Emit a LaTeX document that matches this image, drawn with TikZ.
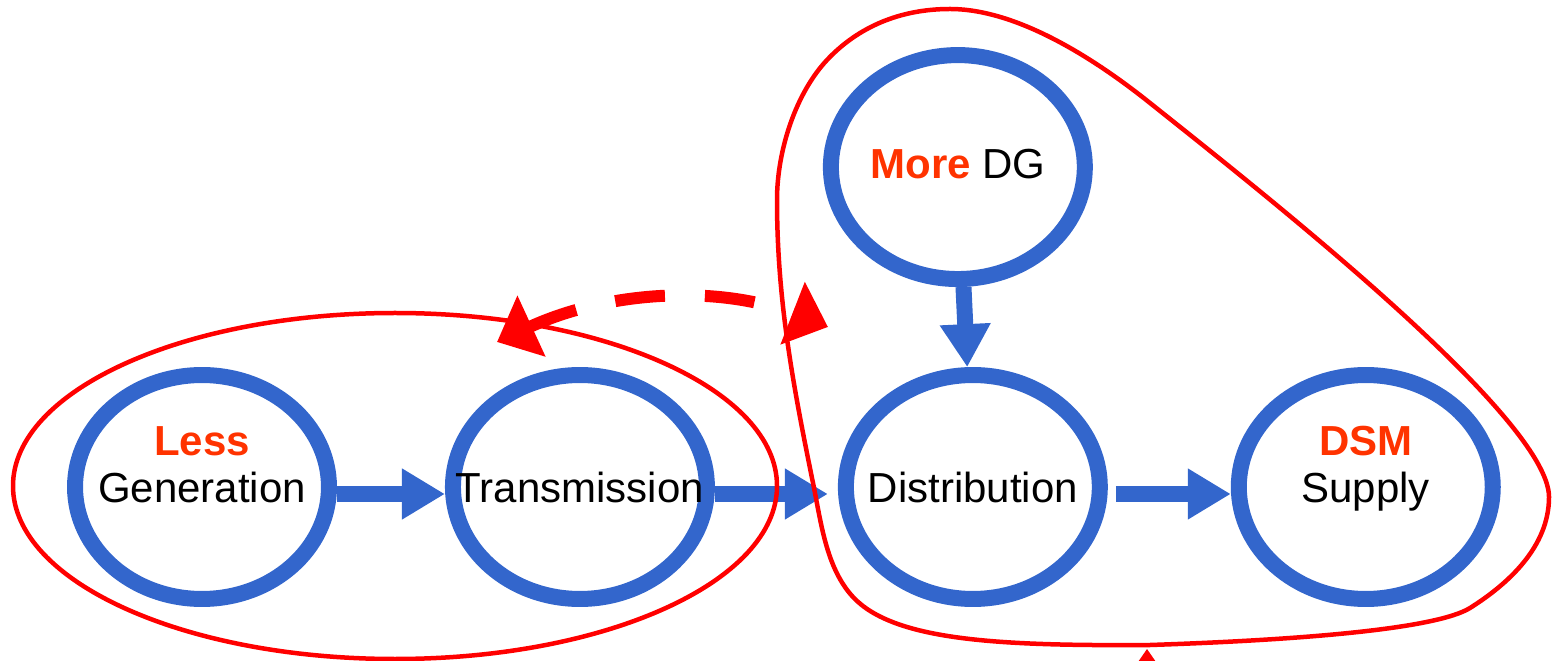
\documentclass[tikz,border=0pt]{standalone}
\usepackage{fontspec}
\setmainfont{Liberation Sans}
\usepackage{tikz}
\usetikzlibrary{positioning,shapes.geometric,arrows.meta}
\definecolor{flowblue}{RGB}{51,102,204}
\definecolor{hotred}{RGB}{255,51,0}

\begin{document}
\begin{tikzpicture}[x=0.02cm, y=-0.02cm, node distance=2.46cm, auto]
	% Define styles for stages and links
	\tikzset{
		stage/.style={
			ellipse,
			draw=flowblue,
			line width=0.32cm,
			minimum width=5.08cm,
			minimum height=4.48cm,
			inner xsep=-3cm,
			inner ysep=0pt,
			text height=0.8cm,
			text depth=0.16cm,
			font=\fontsize{23.9}{28}\selectfont
		},
		tag/.style={
			text=hotred,
			yshift=0.96cm,
			text height=0.8cm,
			text depth=0.16cm,
			font=\fontsize{23.9}{28}\selectfont\bfseries
		},
		flow/.style={
			draw=flowblue,
			line width=0.32cm,
			-{Triangle[length=0.86cm, width=0.96cm]}
		},
		ringline/.style={
			draw=red,
			line width=0.09cm,
			line join=round
		},
		dashlink/.style={
			draw=red,
			line width=0.24cm,
			dash pattern=on 1cm off 0.8cm,
			{Triangle[length=0.76cm, width=1.3cm]}-{Triangle[length=0.76cm, width=1.3cm]}
		}
	}
	\useasboundingbox (0,0) rectangle (1554,661);
	
	% Nodes for the supply chain
	\node[stage, label={[tag]center:Less}] (gen) at (202,487) {Generation};
	\node[stage, right=2.16cm of gen] (trans) {Transmission};
	\node[stage, right=of trans] (dist) {Distribution};
	\node[stage, right=of dist, label={[tag]center:DSM}] (supply) {Supply};
	\node[stage, above=1.6cm of dist, xshift=-0.3cm, text height=0.6cm] (dg) {\textcolor{hotred}{\textbf{More}} DG};
	
	% Arrows along the chain
	\draw[flow] ([yshift=-0.14cm]gen.east) -- ([yshift=-0.14cm]trans.west);
	\draw[flow, shorten >=0.2cm] ([yshift=-0.14cm]trans.east) -- ([yshift=-0.14cm]dist.west);
	\draw[flow, shorten <=0.16cm] ([yshift=-0.14cm]dist.east) -- ([yshift=-0.14cm]supply.west);
	\draw[flow] (dg) -- (dist);
	
	% Red groupings
	\draw[ringline] (395,486) ellipse [x radius=382, y radius=173];
	\draw[ringline] (950,9) .. controls (1020,9) and (1100,63) .. (1150,103)
		.. controls (1254,186) and (1549,417) .. (1549,497)
		.. controls (1549,547) and (1508,584) .. (1470,608)
		.. controls (1436,629) and (1300,640) .. (1150,645)
		.. controls (1000,646) and (894,641) .. (853,597)
		.. controls (826,568) and (821,522) .. (813,483)
		.. controls (793,385) and (777,300) .. (777,200)
		.. controls (777,150) and (796,93) .. (827,60)
		.. controls (858,27) and (900,9) .. (950,9) -- cycle;
	
	% Dashed two-way link
	\coordinate (dl) at (497,342);
	\coordinate (dr) at (828,327);
	\draw[dashlink] (dl) .. controls (610,290) and (720,285) .. (dr);
	
	% arrow head at the bottom edge
	\fill[red] (1147,649) -- (1156,662) -- (1138,662) -- cycle;
\end{tikzpicture}
\end{document}
